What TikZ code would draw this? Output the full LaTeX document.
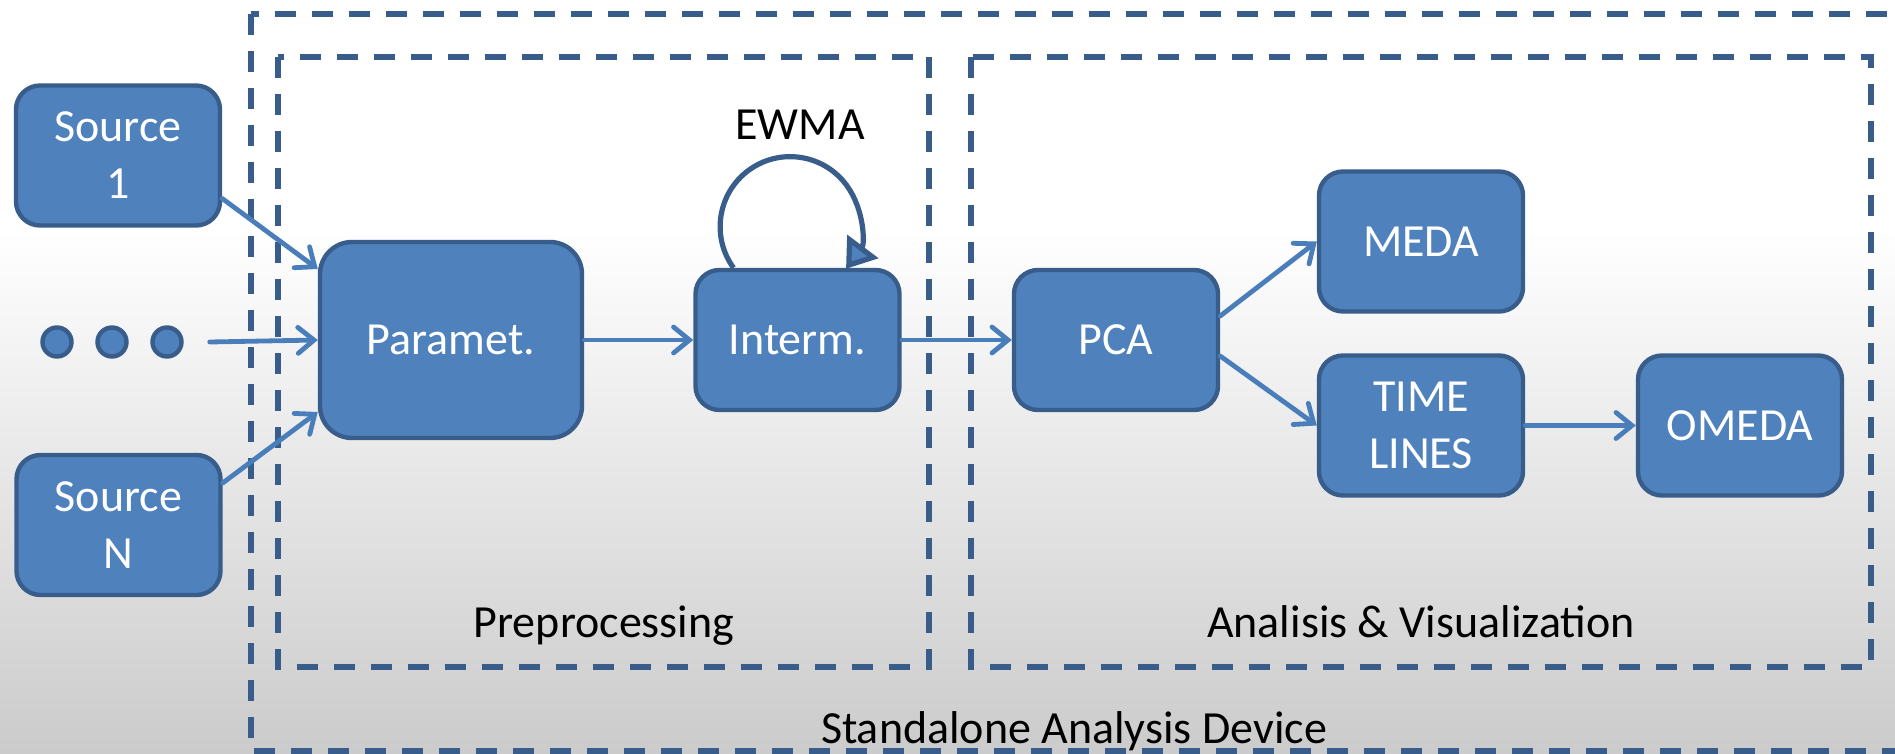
\documentclass[tikz,border=0pt]{standalone}
\usepackage{fontspec}
\setmainfont{Carlito}
\usetikzlibrary{arrows.meta,calc}

\definecolor{boxfill}{HTML}{4F81BD}
\definecolor{boxline}{HTML}{385D8A}
\definecolor{arrowc}{HTML}{4A7EBB}
\definecolor{dashc}{HTML}{385D8A}
\definecolor{bgbot}{HTML}{CBCBCB}

\tikzset{
  blockbox/.style={draw=boxline, fill=boxfill, line width=2.2pt,
    rounded corners=12pt, text=white, align=center, inner sep=0pt,
    font=\fontsize{23}{28.5}\selectfont,
    minimum width=102pt, minimum height=70pt},
  bigbox/.style={blockbox, rounded corners=16pt,
    minimum width=131pt, minimum height=98pt},
  dotnode/.style={circle, draw=boxline, fill=boxfill, line width=2.2pt,
    minimum size=14.5pt, inner sep=0pt},
  conn/.style={draw=arrowc, line width=2.4pt, line cap=round,
    -{Straight Barb[length=8pt,width=13pt,line cap=round]}},
  loopconn/.style={draw=boxline, line width=2.6pt,
    -{Triangle[length=14pt,width=19pt,fill=boxfill]}},
  groupframe/.style={draw=dashc, line width=2.6pt, dash pattern=on 10.5pt off 8pt},
  grouplabel/.style={font=\fontsize{23}{28}\selectfont, text=black, anchor=base, inner sep=0pt},
}

\begin{document}
\begin{tikzpicture}[x=0.5pt, y=-0.5pt]
  % canvas and background gradient
  \useasboundingbox (0,0) rectangle (1895,754);
  \clip (0,0) rectangle (1895,754);
  \fill[white] (0,0) rectangle (1895,231);
  \shade[top color=white, bottom color=bgbot] (0,230) rectangle (1895,754);

  % dashed group frames
  \draw[groupframe] (251,14) rectangle (1960,751);
  \draw[groupframe] (278,57) rectangle (929,667);
  \draw[groupframe] (971,57) rectangle (1871,667);

  % group labels
  \node[grouplabel] (lblpre) at (604,637) {Preprocessing};
  \node[grouplabel] (lblana) at (1421,637) {Analisis \& Visualization};
  \node[grouplabel] (lbldev) at (1074,743) {Standalone Analysis Device};
  \node[grouplabel] (lblewma) at (800,140) {EWMA};

  % sources
  \node[blockbox] (src1) at (118,155.5) {Source\\1};
  \node[blockbox] (srcN) at (118.5,525) {Source\\N};
  \node[dotnode] (dot1) at (57,342) {};
  \node[dotnode] (dot2) at (112,342) {};
  \node[dotnode] (dot3) at (167,342) {};

  % processing chain
  \node[bigbox] (par) at (451,340) {Paramet.};
  \node[blockbox] (int) at (797.5,340) {Interm.};
  \node[blockbox] (pca) at (1116,340) {PCA};
  \node[blockbox] (meda) at (1421,241.5) {MEDA};
  \node[blockbox] (time) at (1421,425.5) {TIME\\LINES};
  \node[blockbox] (omeda) at (1740,425.5) {OMEDA};

  % connectors
  \draw[conn] ([yshift=-21.5pt]src1.east) -- ([yshift=35.5pt]par.west);
  \draw[conn] ([xshift=13pt]dot3.east) -- (par.west);
  \draw[conn] ([yshift=21pt]srcN.east) -- ([yshift=-36pt]par.west);
  \draw[conn] (par.east) -- (int.west);
  \draw[conn] (int.east) -- (pca.west);
  \draw[conn] ([yshift=12pt]pca.east) -- (meda.west);
  \draw[conn] ([yshift=-8pt]pca.east) -- (time.west);
  \draw[conn] (time.east) -- (omeda.west);

  % EWMA feedback loop
  \draw[loopconn] ([xshift=-32pt]int.north) arc[start angle=216, end angle=-37, radius=35pt];
\end{tikzpicture}
\end{document}
